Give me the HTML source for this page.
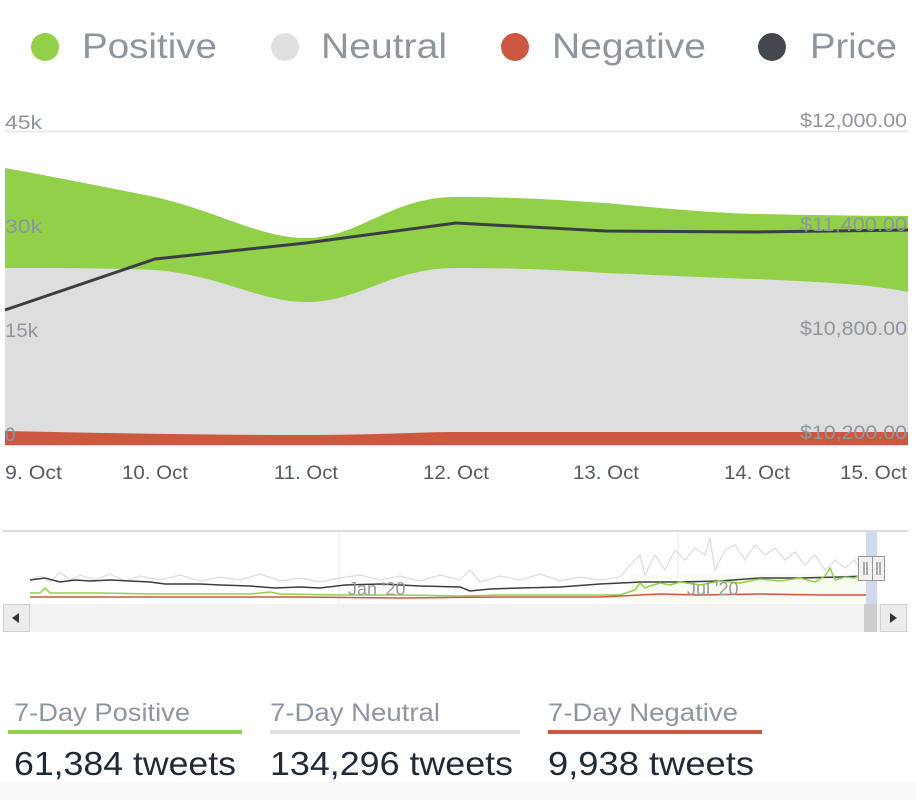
<!DOCTYPE html>
<html><head><meta charset="utf-8"><style>
html,body{margin:0;padding:0;background:#fff;}
body{width:916px;height:800px;overflow:hidden;font-family:"Liberation Sans",sans-serif;}
</style></head><body>
<svg width="916" height="800" viewBox="0 0 916 800" xmlns="http://www.w3.org/2000/svg" font-family="Liberation Sans, sans-serif">
<rect x="0" y="782" width="916" height="18" fill="#f9f9f9"/>
<!-- legend -->
<g font-size="35" fill="#8d969f">
<circle cx="45" cy="47" r="14" fill="#91d048"/><text x="82" y="58" textLength="135" lengthAdjust="spacingAndGlyphs">Positive</text>
<circle cx="285" cy="47" r="14" fill="#e0e0e0"/><text x="321" y="58" textLength="126" lengthAdjust="spacingAndGlyphs">Neutral</text>
<circle cx="515" cy="47" r="14" fill="#cc5840"/><text x="552" y="58" textLength="154" lengthAdjust="spacingAndGlyphs">Negative</text>
<circle cx="772" cy="47" r="14" fill="#44474c"/><text x="810" y="58" textLength="87" lengthAdjust="spacingAndGlyphs">Price</text>
</g>
<!-- grid -->
<line x1="5" y1="131.5" x2="908" y2="131.5" stroke="#e6e6e6" stroke-width="1.5"/>
<!-- areas -->
<path d="M5,168 C60,178 110,188 155,197 C220,212 260,238 306,238 C360,238 390,197 456,197 C520,197 560,200 606,203 C680,210 720,213 757,214 C820,215 870,216 908,216 L908,445 L5,445 Z" fill="#91d048"/>
<path d="M5,268 C60,268 110,268 155,270 C220,275 260,302 306,302 C360,302 390,268 456,268 C520,268 560,270 606,273 C680,276 720,278 757,279 C820,282 870,284 908,292 L908,445 L5,445 Z" fill="#dedede"/>
<path d="M5,431 C100,433 200,435 306,435 C380,435 420,432 456,432 C600,432 760,432 908,432 L908,445 L5,445 Z" fill="#cc5840"/>
<line x1="5" y1="445.5" x2="908" y2="445.5" stroke="#e6e6e6" stroke-width="1"/>
<!-- price -->
<polyline points="5,310 155,259 306,243 456,223 606,231 757,232 908,230" fill="none" stroke="#3b3d42" stroke-width="3" stroke-linejoin="round"/>
<!-- axis labels -->
<g font-size="19" fill="#8d969f">
<text x="5" y="129" textLength="37" lengthAdjust="spacingAndGlyphs">45k</text>
<text x="5" y="233" textLength="37" lengthAdjust="spacingAndGlyphs">30k</text>
<text x="5" y="337" textLength="33" lengthAdjust="spacingAndGlyphs">15k</text>
<text x="5" y="441">0</text>
<text x="800" y="127" textLength="107" lengthAdjust="spacingAndGlyphs">$12,000.00</text>
<text x="800" y="231" textLength="107" lengthAdjust="spacingAndGlyphs">$11,400.00</text>
<text x="800" y="335" textLength="107" lengthAdjust="spacingAndGlyphs">$10,800.00</text>
<text x="800" y="439" textLength="107" lengthAdjust="spacingAndGlyphs">$10,200.00</text>
</g>
<g font-size="19" fill="#555b63">
<text x="5" y="479" textLength="57" lengthAdjust="spacingAndGlyphs">9. Oct</text>
<text x="122" y="479" textLength="66" lengthAdjust="spacingAndGlyphs">10. Oct</text>
<text x="274" y="479" textLength="64" lengthAdjust="spacingAndGlyphs">11. Oct</text>
<text x="423" y="479" textLength="66" lengthAdjust="spacingAndGlyphs">12. Oct</text>
<text x="573" y="479" textLength="66" lengthAdjust="spacingAndGlyphs">13. Oct</text>
<text x="724" y="479" textLength="66" lengthAdjust="spacingAndGlyphs">14. Oct</text>
<text x="840" y="479" textLength="67" lengthAdjust="spacingAndGlyphs">15. Oct</text>
</g>
<!-- navigator -->
<line x1="3" y1="531" x2="908" y2="531" stroke="#cfcfcf" stroke-width="1.5"/>
<line x1="339" y1="531" x2="339" y2="604" stroke="#e6e6e6"/>
<line x1="678" y1="531" x2="678" y2="604" stroke="#e6e6e6"/>
<rect x="630" y="575" width="236" height="29" fill="#f7fbf2"/>
<polyline fill="none" stroke="#dcdcdc" stroke-width="1.2" points="30,580 40,576 50,582 60,572 70,580 80,575 95,580 110,574 125,581 140,576 160,580 180,575 200,581 220,577 240,580 260,574 280,581 300,578 320,582 340,578 360,575 380,580 400,576 420,581 440,575 460,580 470,570 480,582 500,576 520,580 540,574 560,581 580,577 600,580 620,577 630,565 640,555 645,575 655,555 665,570 675,550 685,560 695,548 705,555 710,538 715,570 725,550 735,545 745,560 755,545 765,555 775,548 785,560 795,552 805,565 815,555 825,570 835,560 845,568 855,560 862,575"/>
<polyline fill="none" stroke="#3b3d42" stroke-width="1.5" points="30,580 45,578 60,582 75,580 90,581 110,580 130,581 150,582 165,584 200,584 220,585 250,586 275,588 300,587 320,588 345,585 380,584 420,586 460,587 470,591 490,589 520,588 560,587 600,584 640,582 680,582 720,581 760,578 800,578 840,577 866,576"/>
<polyline fill="none" stroke="#91d048" stroke-width="1.5" points="30,593 40,593 45,588 50,593 100,593 150,594 200,594 250,594 270,592 280,594 340,595 400,595 460,596 500,595 560,595 620,595 635,590 640,583 645,588 650,586 660,583 670,585 680,582 700,585 720,581 740,583 760,579 780,581 800,578 815,582 825,576 830,568 835,580 845,577 855,578 866,570"/>
<polyline fill="none" stroke="#d4553c" stroke-width="1.5" points="30,597 100,597 200,597 300,597 400,598 500,597 600,597 640,595 660,594 700,595 760,594 820,595 866,595"/>
<text x="348" y="595" font-size="18" fill="#9a9a9a">Jan '20</text>
<text x="687" y="595" font-size="18" fill="#9a9a9a">Jul '20</text>
<rect x="866" y="531" width="11" height="73" fill="#ccd6eb" opacity="0.9"/>
<!-- scrollbar -->
<rect x="3" y="604" width="905" height="28" fill="#f2f2f2"/>
<rect x="864" y="604" width="13" height="28" fill="#cdcdcd"/>
<rect x="3.5" y="604.5" width="26" height="27" fill="#ececec" stroke="#d0d0d0"/>
<path d="M19,613 L12,618 L19,623 Z" fill="#333"/>
<rect x="880.5" y="604.5" width="26" height="27" fill="#ececec" stroke="#d0d0d0"/>
<path d="M890,613 L897,618 L890,623 Z" fill="#333"/>
<!-- handles -->
<rect x="858.5" y="556.5" width="14" height="24" fill="#f2f2f2" stroke="#999"/>
<rect x="872.5" y="556.5" width="12" height="24" fill="#f2f2f2" stroke="#999"/>
<g stroke="#666"><line x1="864" y1="562" x2="864" y2="575"/><line x1="867" y1="562" x2="867" y2="575"/><line x1="877" y1="562" x2="877" y2="575"/><line x1="880" y1="562" x2="880" y2="575"/></g>
<!-- stats -->
<g font-size="25" fill="#8d969f">
<text x="14" y="721" textLength="176" lengthAdjust="spacingAndGlyphs">7-Day Positive</text>
<text x="270" y="721" textLength="170" lengthAdjust="spacingAndGlyphs">7-Day Neutral</text>
<text x="548" y="721" textLength="190" lengthAdjust="spacingAndGlyphs">7-Day Negative</text>
</g>
<rect x="8" y="730" width="234" height="4" fill="#91d048"/>
<rect x="270" y="730" width="250" height="4" fill="#e0e0e0"/>
<rect x="548" y="730" width="214" height="4" fill="#cc5840"/>
<g font-size="33" fill="#1f2a36">
<text x="14" y="775" textLength="222" lengthAdjust="spacingAndGlyphs">61,384 tweets</text>
<text x="270" y="775" textLength="243" lengthAdjust="spacingAndGlyphs">134,296 tweets</text>
<text x="548" y="775" textLength="206" lengthAdjust="spacingAndGlyphs">9,938 tweets</text>
</g>
</svg>
</body></html>
